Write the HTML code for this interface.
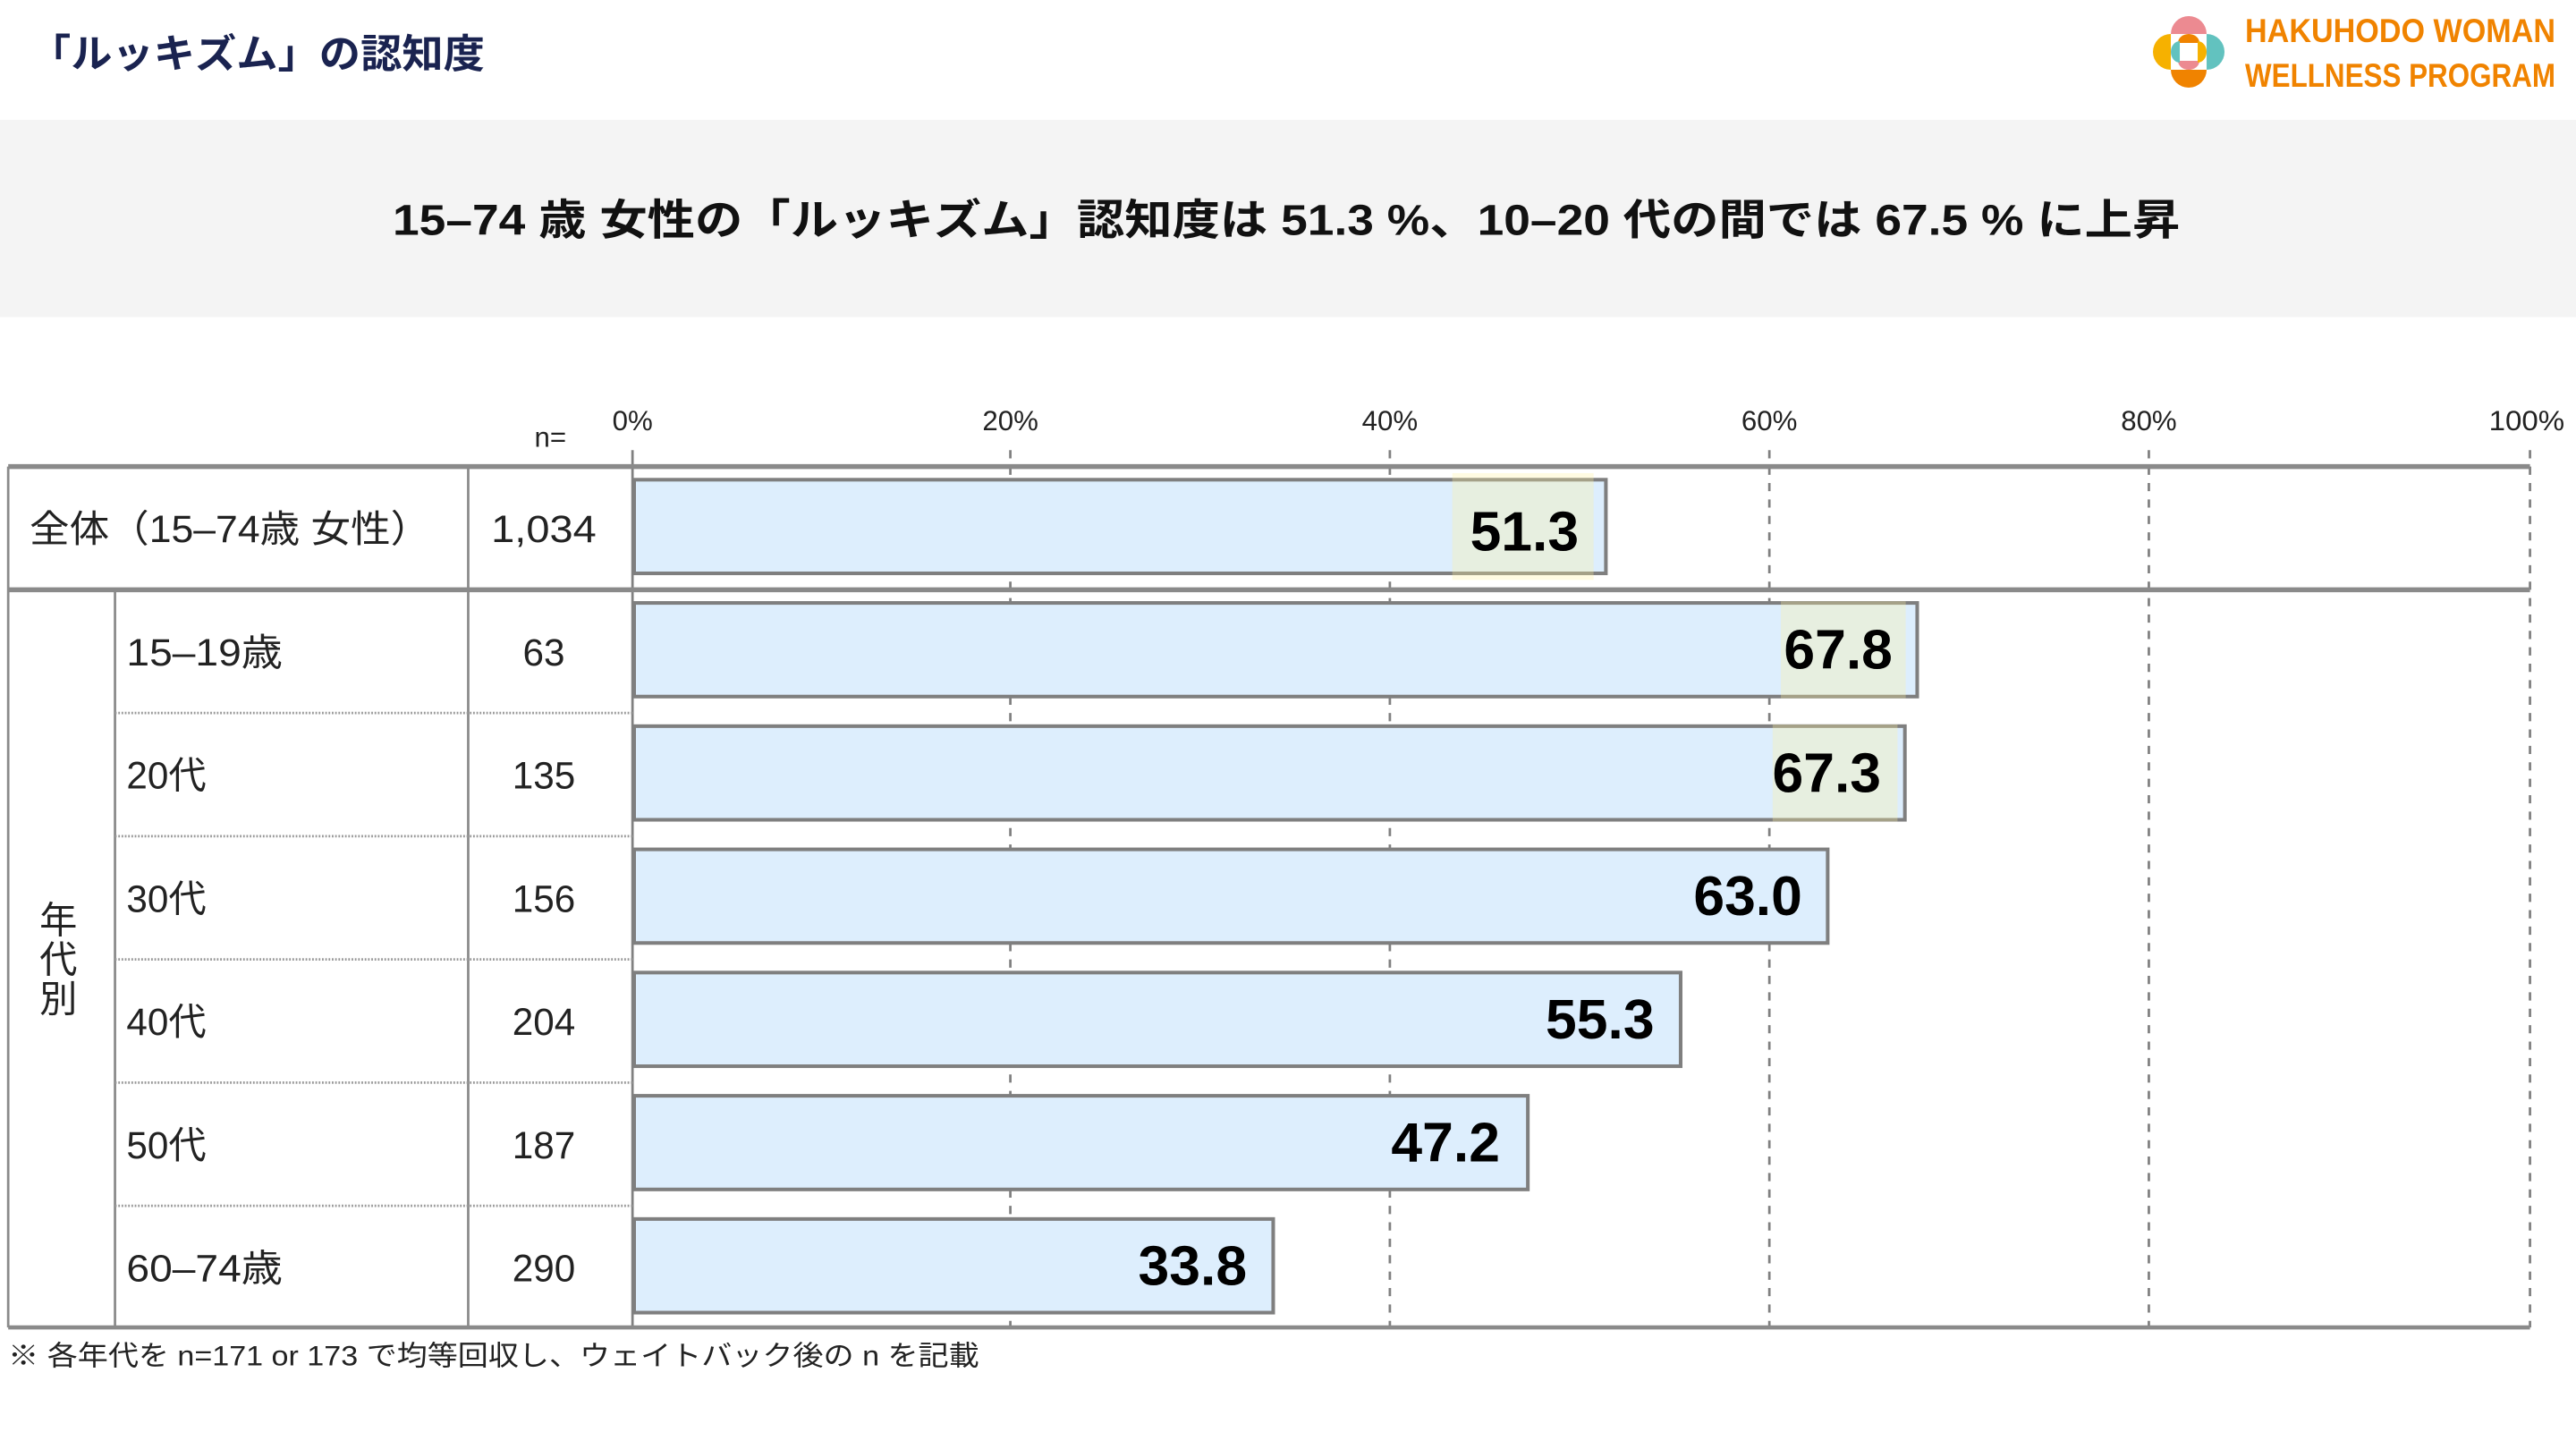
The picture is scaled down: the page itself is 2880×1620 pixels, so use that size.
<!DOCTYPE html>
<html><head><meta charset="utf-8"><style>
html,body{margin:0;padding:0;background:#fff;}
svg{display:block;}
text{font-family:"Liberation Sans","Noto Sans CJK JP",sans-serif;}
</style></head><body>
<svg width="2880" height="1620" viewBox="0 0 1568 882" xmlns="http://www.w3.org/2000/svg">
<rect width="1568" height="882" fill="#fff"/>
<text x="18" y="41" font-size="24" font-weight="bold" fill="#1a2350" textLength="277" lengthAdjust="spacingAndGlyphs">「ルッキズム」の認知度</text>
<!-- logo -->
<g transform="scale(0.54445)">
 <path d="M2427 38 A20 20 0 0 1 2467 38 Z" fill="#ec8a91"/>
 <path d="M2427 78 A20 20 0 0 0 2467 78 Z" fill="#f08300"/>
 <path d="M2427 38 A20 20 0 0 0 2427 78 Z" fill="#f6b100"/>
 <path d="M2467 38 A20 20 0 0 1 2467 78 Z" fill="#62c2bf"/>
 <path d="M2435 48 A12 10 0 0 1 2459 48 Z" fill="#f08300"/>
 <path d="M2435 68 A12 10 0 0 0 2459 68 Z" fill="#ec8a91"/>
 <path d="M2437 46 A10 12 0 0 0 2437 70 Z" fill="#62c2bf"/>
 <path d="M2457 46 A10 12 0 0 1 2457 70 Z" fill="#f6b100"/>
 <text x="2510" y="47" font-size="37" font-weight="bold" fill="#f08300" textLength="347" lengthAdjust="spacingAndGlyphs">HAKUHODO WOMAN</text>
 <text x="2510" y="97" font-size="37" font-weight="bold" fill="#f08300" textLength="347" lengthAdjust="spacingAndGlyphs">WELLNESS PROGRAM</text>
</g>
<rect x="0" y="73" width="1568" height="120" fill="#f4f4f4"/>
<text x="783" y="143" font-size="26" font-weight="bold" fill="#111" text-anchor="middle" textLength="1088" lengthAdjust="spacingAndGlyphs">15–74 歳 女性の「ルッキズム」認知度は 51.3 %、10–20 代の間では 67.5 % に上昇</text>
<!-- axis labels -->
<g font-size="17" fill="#222" text-anchor="middle">
<text x="385" y="262">0%</text><text x="615" y="262">20%</text><text x="846" y="262">40%</text>
<text x="1077" y="262">60%</text><text x="1308" y="262">80%</text><text x="1538" y="262" textLength="46" lengthAdjust="spacingAndGlyphs">100%</text>
<text x="335" y="272">n=</text>
</g>
<!-- gridlines -->
<g stroke="#808080" stroke-width="1.5" stroke-dasharray="5,5">
<line x1="615" y1="274" x2="615" y2="808"/><line x1="846" y1="274" x2="846" y2="808"/>
<line x1="1077" y1="274" x2="1077" y2="808"/><line x1="1308" y1="274" x2="1308" y2="808"/>
<line x1="1540" y1="274" x2="1540" y2="808"/>
</g>
<line x1="385" y1="274" x2="385" y2="808" stroke="#808080" stroke-width="1.5"/>
<!-- bars -->
<g fill="#ddeefd" stroke="#7f7f7f" stroke-width="2.2">
<rect x="386" y="292" width="591.5" height="57"/>
<rect x="386" y="367" width="781" height="57"/>
<rect x="386" y="442" width="773.5" height="57"/>
<rect x="386" y="517" width="726.5" height="57"/>
<rect x="386" y="592" width="637" height="57"/>
<rect x="386" y="667" width="544" height="57"/>
<rect x="386" y="742" width="389" height="57"/>
</g>
<g fill="#fff2a0" fill-opacity="0.3">
<rect x="884" y="288" width="86" height="65"/>
<rect x="1084" y="366" width="76" height="59"/>
<rect x="1079" y="441" width="76" height="59"/>
</g>
<g font-size="34" font-weight="bold" fill="#000" text-anchor="end">
<text x="961" y="335">51.3</text>
<text x="1152" y="407">67.8</text>
<text x="1145" y="482">67.3</text>
<text x="1097" y="557">63.0</text>
<text x="1007" y="632">55.3</text>
<text x="913" y="707">47.2</text>
<text x="759" y="782">33.8</text>
</g>
<!-- table lines -->
<g stroke="#8a8a8a">
<line x1="5" y1="284" x2="1540" y2="284" stroke-width="3"/>
<line x1="5" y1="359" x2="1540" y2="359" stroke-width="3"/>
<line x1="5" y1="808" x2="1540" y2="808" stroke-width="2.5"/>
<line x1="5" y1="284" x2="5" y2="808" stroke-width="1.5"/>
<line x1="285" y1="284" x2="285" y2="808" stroke-width="1.5"/>
<line x1="70" y1="359" x2="70" y2="808" stroke-width="1.5"/>
</g>
<g stroke="#999" stroke-width="1.5" stroke-dasharray="1,1">
<line x1="70" y1="434" x2="385" y2="434"/><line x1="70" y1="509" x2="385" y2="509"/>
<line x1="70" y1="584" x2="385" y2="584"/><line x1="70" y1="659" x2="385" y2="659"/>
<line x1="70" y1="734" x2="385" y2="734"/>
</g>
<g font-size="23" fill="#222">
<text x="18" y="330" textLength="244" lengthAdjust="spacingAndGlyphs">全体（15–74歳 女性）</text>
<text x="77" y="405" textLength="95" lengthAdjust="spacingAndGlyphs">15–19歳</text>
<text x="77" y="480">20代</text>
<text x="77" y="555">30代</text>
<text x="77" y="630">40代</text>
<text x="77" y="705">50代</text>
<text x="77" y="780" textLength="95" lengthAdjust="spacingAndGlyphs">60–74歳</text>
<text x="24" y="568">年</text><text x="24" y="592">代</text><text x="24" y="616">別</text>
</g>
<g font-size="23" fill="#222" text-anchor="middle">
<text x="331" y="330" textLength="64" lengthAdjust="spacingAndGlyphs">1,034</text>
<text x="331" y="405">63</text><text x="331" y="480">135</text><text x="331" y="555">156</text>
<text x="331" y="630">204</text><text x="331" y="705">187</text><text x="331" y="780">290</text>
</g>
<text x="5" y="831" font-size="17" fill="#222" textLength="591" lengthAdjust="spacingAndGlyphs">※ 各年代を n=171 or 173 で均等回収し、ウェイトバック後の n を記載</text>
</svg>
</body></html>
